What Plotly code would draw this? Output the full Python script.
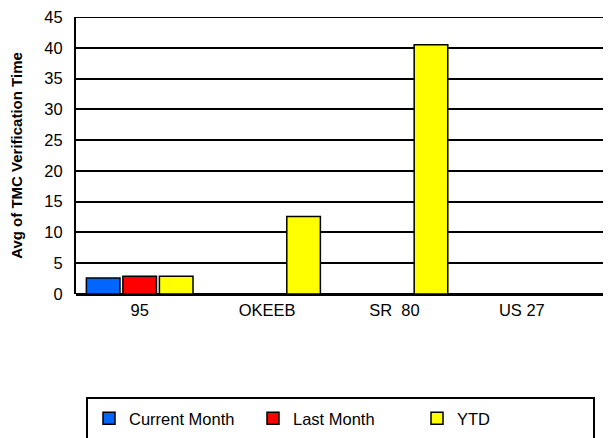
import plotly.graph_objects as go

categories = ["95", "OKEEB", "SR  80", "US 27"]
current_month = [2.6, None, None, None]
last_month = [2.9, None, None, None]
ytd = [2.9, 12.6, 40.5, None]

series_names = ["Current Month", "Last Month", "YTD"]
series_colors = ["#0066FF", "#FF0000", "#FFFF00"]
series_values = [current_month, last_month, ytd]

y_ticks = [0, 5, 10, 15, 20, 25, 30, 35, 40, 45]

FONT = "Arial, 'Liberation Sans', sans-serif"

fig = go.Figure()
for name, color, vals in zip(series_names, series_colors, series_values):
    fig.add_trace(go.Bar(
        x=list(range(len(categories))), y=vals, name=name,
        marker=dict(color=color, line=dict(color="black", width=1.5)),
    ))

# page has an 8px body margin; work in figure coordinates = page - 8
OFF = 8
W, H = 611 - OFF, 438 - OFF
ml, mt = 76 - OFF, 17 - OFF
plot_bottom = 294 - OFF
mb = H - plot_bottom
mr = 0
plot_h = plot_bottom - mt
plot_w = W - ml - mr


def py(page_y):
    return (plot_bottom - (page_y - OFF)) / plot_h


def px(page_x):
    return ((page_x - OFF) - ml) / plot_w


fig.update_layout(
    width=W, height=H,
    margin=dict(l=ml, r=mr, t=mt, b=mb, autoexpand=False),
    paper_bgcolor="white", plot_bgcolor="white",
    barmode="group", bargap=0.14, bargroupgap=0.08,
    font=dict(family=FONT, size=16.5, color="black"),
    showlegend=True,
    legend=dict(
        orientation="h", x=px(89), xanchor="left",
        y=py(401), yanchor="top",
        bgcolor="rgba(0,0,0,0)", borderwidth=0,
        entrywidth=119, entrywidthmode="pixels",
        font=dict(family=FONT, size=16.5, color="black"),
    ),
    xaxis=dict(
        tickmode="array", tickvals=list(range(len(categories))), ticktext=categories,
        range=[-0.5, 3.7], showgrid=False, showline=False, zeroline=False,
        ticks="", ticklabelstandoff=4, fixedrange=True,
    ),
    yaxis=dict(
        range=[0, 45.02], tickmode="array", tickvals=y_ticks,
        showgrid=True, gridcolor="black", gridwidth=1.6,
        showline=True, linecolor="black", linewidth=2,
        zeroline=True, zerolinecolor="black", zerolinewidth=2.5,
        ticks="", ticklabelstandoff=8, ticklabeloverflow="allow",
        title=dict(text="<b>Avg of TMC Verification Time</b>", standoff=21,
                   font=dict(family=FONT, size=15, color="black")),
        automargin=False,
    ),
    shapes=[
        dict(
            type="rect", xref="paper", yref="paper",
            x0=px(87), x1=px(594),
            y0=py(460), y1=py(398),
            line=dict(color="black", width=2), fillcolor="rgba(0,0,0,0)", layer="above",
        ),
        dict(
            type="line", xref="paper", yref="y",
            x0=0, x1=1, y0=y_ticks[-1], y1=y_ticks[-1],
            line=dict(color="black", width=2), layer="below",
        ),
    ],
)

fig.write_html("out.html")
